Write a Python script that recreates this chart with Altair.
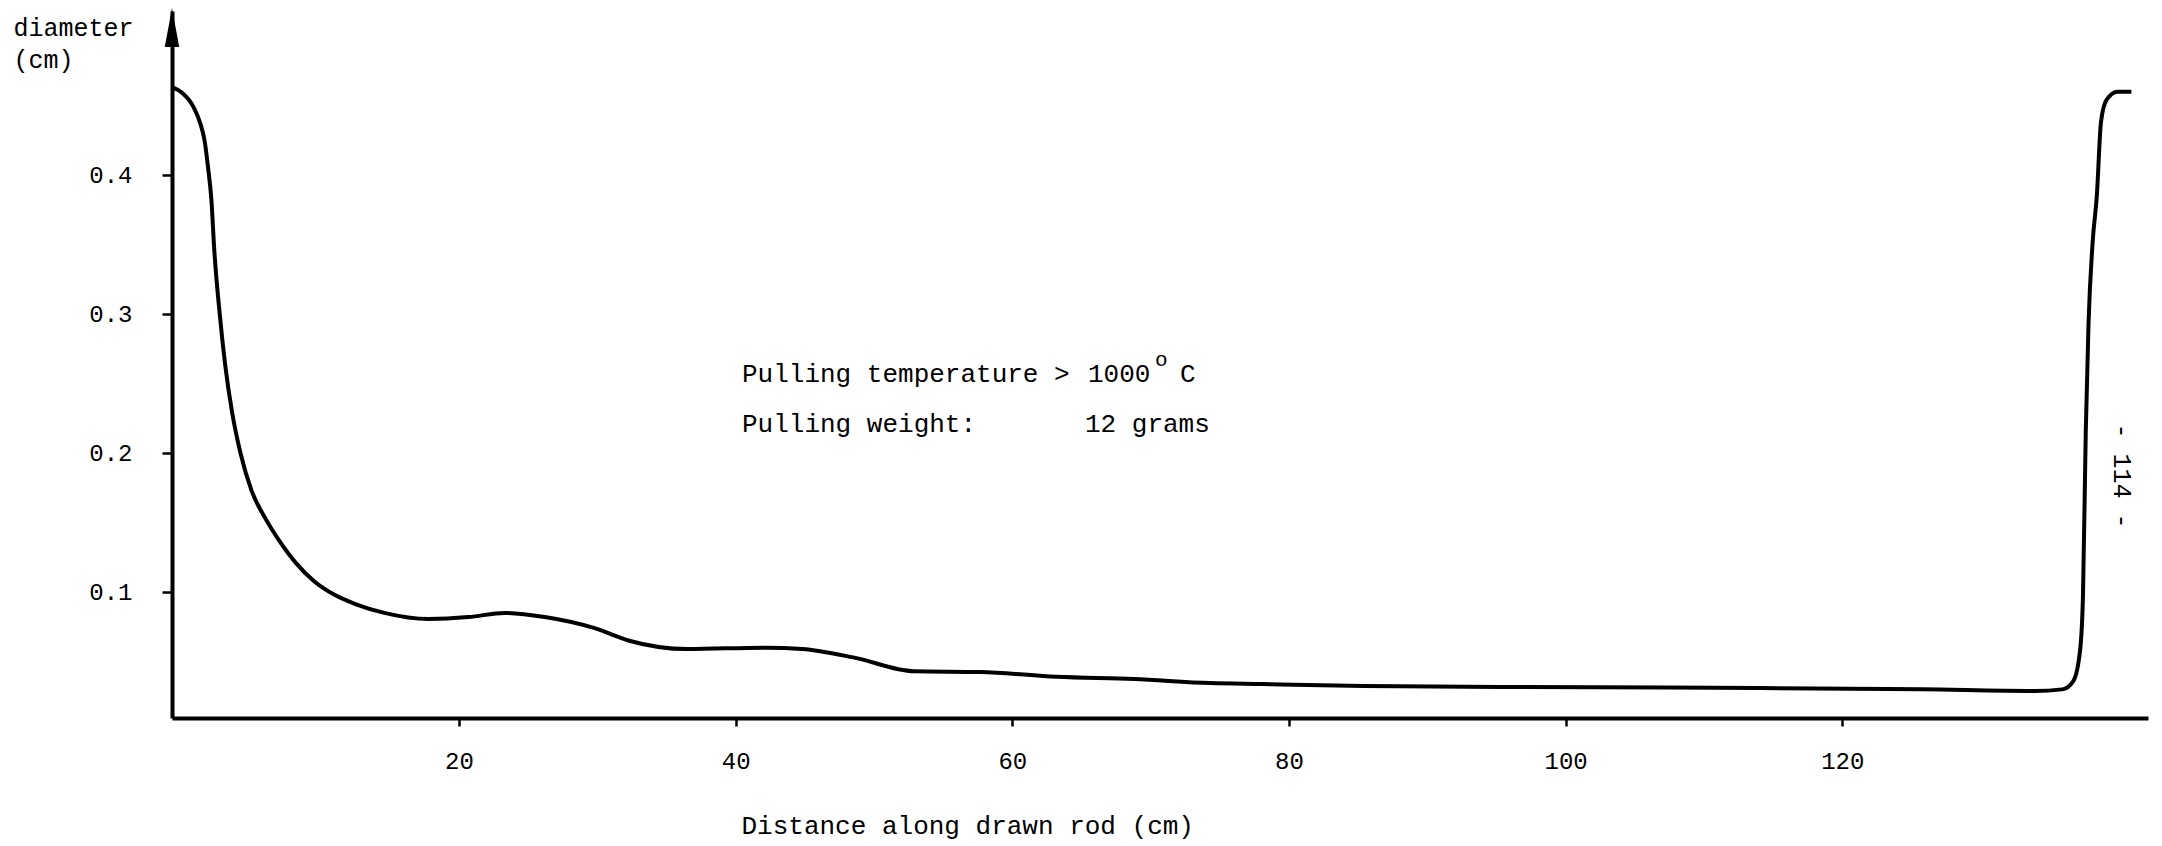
import altair as alt
import pandas as pd

# Rod diameter profile along the drawn rod
distance_cm = [
    -0.7, 0.0, 0.8, 1.3, 1.6, 1.85, 2.1, 2.3, 2.7, 3.1, 3.6, 4.2, 5.0, 6.0, 7.0,
    8.2, 9.5, 11.0, 12.6, 14.6, 17.8, 20.7, 23.3, 26.2, 29.8, 32.3, 36.5, 42.2,
    44.8, 48.5, 52.9, 57.7, 63.2, 68.8, 74.3, 78.0, 85.4, 95.3, 114.0, 125.8,
    133.9, 135.9, 136.7, 137.2, 137.4, 137.6, 137.8, 138.1, 138.4, 138.7, 139.1,
    139.9, 140.9,
]
diameter_cm = [
    0.463, 0.459, 0.449, 0.437, 0.425, 0.406, 0.382, 0.347, 0.300, 0.263, 0.229,
    0.200, 0.173, 0.153, 0.137, 0.121, 0.108, 0.098, 0.091, 0.085, 0.0806, 0.082,
    0.085, 0.082, 0.074, 0.065, 0.059, 0.060, 0.059, 0.053, 0.043, 0.0425, 0.039,
    0.0374, 0.0345, 0.0338, 0.0324, 0.0317, 0.031, 0.030, 0.0288, 0.030, 0.036,
    0.059, 0.098, 0.215, 0.293, 0.352, 0.385, 0.438, 0.454, 0.460, 0.460,
]

x_ticks = [20, 40, 60, 80, 100, 120]
y_ticks = [0.1, 0.2, 0.3, 0.4]

MONO = "Liberation Mono"
W, H = 1976, 707

df = pd.DataFrame({"distance": distance_cm, "diameter": diameter_cm})

x_enc = alt.X(
    "distance:Q",
    scale=alt.Scale(domain=[-0.75, 142.1], nice=False, zero=False),
    axis=alt.Axis(
        values=x_ticks,
        grid=False,
        domainColor="black",
        domainWidth=4,
        tickColor="black",
        tickWidth=2.5,
        tickSize=8,
        labelFont=MONO,
        labelFontSize=24,
        labelColor="black",
        labelPadding=23,
        labelBaseline="top",
        title="Distance along drawn rod (cm)",
        titleFont=MONO,
        titleFontSize=26,
        titleFontWeight="normal",
        titleColor="black",
        titleAlign="left",
        titleAnchor="start",
        titleX=569,
        titleY=115,
        titleBaseline="alphabetic",
    ),
)

y_enc = alt.Y(
    "diameter:Q",
    scale=alt.Scale(domain=[0.0094, 0.518], nice=False, zero=False),
    axis=alt.Axis(
        values=y_ticks,
        format=".1f",
        grid=False,
        domainColor="black",
        domainWidth=4,
        tickColor="black",
        tickWidth=2.5,
        tickSize=10,
        labelFont=MONO,
        labelFontSize=24,
        labelColor="black",
        labelPadding=30,
        title=["diameter", "(cm)"],
        titleFont=MONO,
        titleFontSize=25,
        titleFontWeight="normal",
        titleColor="black",
        titleAngle=0,
        titleAlign="left",
        titleBaseline="alphabetic",
        titleLineHeight=32,
        titleX=-159,
        titleY=24,
    ),
)

curve = alt.Chart(df).mark_line(
    color="black", strokeWidth=4, interpolate="monotone"
).encode(x=x_enc, y=y_enc)

one_row = pd.DataFrame({"k": [0]})

# arrowhead on top of the vertical axis
arrow = alt.Chart(one_row).mark_point(
    shape="M0,-1L0.37,1L-0.37,1Z", filled=True, color="black", opacity=1, size=1521
).encode(x=alt.value(0), y=alt.value(16.5))


def label(text, x, y, size=26, angle=0, align="left", baseline="alphabetic"):
    return alt.Chart(one_row).mark_text(
        text=text,
        font=MONO,
        fontSize=size,
        color="black",
        align=align,
        baseline=baseline,
        angle=angle,
    ).encode(x=alt.value(x), y=alt.value(y))


notes = [
    label("Pulling temperature >", 570, 371),
    label("1000", 916, 371),
    label("o", 983, 355, size=21),
    label("C", 1008, 371),
    label("Pulling weight:", 570, 421),
    label("12 grams", 913, 421),
    label("- 114 -", 1950, 465, size=25, angle=90, align="center", baseline="middle"),
]

chart = (
    alt.layer(curve, arrow, *notes)
    .properties(
        width=W,
        height=H,
        autosize=alt.AutoSizeParams(type="none"),
        padding={"left": 172, "top": 11, "right": 14, "bottom": 128},
        background="white",
    )
    .configure_view(stroke=None)
)

chart.save("out.html", embed_options={"renderer": "svg", "actions": False})
